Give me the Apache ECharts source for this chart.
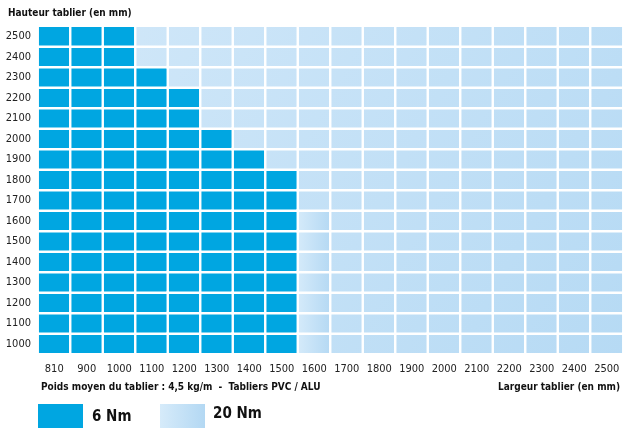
<!DOCTYPE html>
<html>
<head>
<meta charset="utf-8">
<script src="https://cdn.jsdelivr.net/npm/echarts@6/dist/echarts.min.js"></script>
<style>
  html, body { margin: 0; padding: 0; background: #fff; }
  #chart { width: 623px; height: 428px; }
</style>
</head>
<body>
<div id="chart"></div>
<script>
// largeurs (colonnes) et hauteurs (lignes) du tablier, en mm
const largeurs = ['810', '900', '1000', '1100', '1200', '1300', '1400', '1500', '1600',
  '1700', '1800', '1900', '2000', '2100', '2200', '2300', '2400', '2500']
const hauteurs = ['1000', '1100', '1200', '1300', '1400', '1500', '1600', '1700',
  '1800', '1900', '2000', '2100', '2200', '2300', '2400', '2500']
// hauteur max couverte par le moteur 6 Nm pour chaque largeur (0 = jamais)
const hauteurMax6Nm = [2500, 2500, 2500, 2300, 2200, 2000, 1900, 1800, 0,
  0, 0, 0, 0, 0, 0, 0, 0, 0]

const darkBlue = '#00a6e1'
const font = "'DejaVu Sans Condensed', 'Liberation Sans Narrow', 'Roboto', sans-serif"

const lightGlobal = {
  type: 'linear', global: true, x: 38, y: 26, x2: 623, y2: 354,
  colorStops: [{ offset: 0, color: '#d2e8f9' }, { offset: 1, color: '#b6daf4' }]
}
const lightHoriz = {
  type: 'linear', x: 0, y: 0, x2: 1, y2: 0,
  colorStops: [{ offset: 0, color: '#d6ebfa' }, { offset: 1, color: '#b3d8f3' }]
}

const data = []
largeurs.forEach((l, i) => {
  hauteurs.forEach((h, j) => {
    const couple = +h <= hauteurMax6Nm[i] ? 6 : 20
    let color = couple === 6 ? darkBlue : lightGlobal
    if (couple === 20 && l === '1600' && +h <= 1600) color = lightHoriz
    data.push({ value: [i, j, couple], itemStyle: { color } })
  })
})

const chart = echarts.init(document.getElementById('chart'))
chart.setOption({
  animation: false,
  grid: { left: 38, top: 26, right: -3, bottom: 74 },
  xAxis: {
    type: 'category',
    data: largeurs,
    axisLine: { show: false },
    axisTick: { show: false },
    splitLine: { show: false },
    axisLabel: { color: '#222', fontFamily: font, fontSize: 11, margin: 10, interval: 0 }
  },
  yAxis: {
    type: 'category',
    data: hauteurs,
    axisLine: { show: false },
    axisTick: { show: false },
    splitLine: { show: false },
    axisLabel: { color: '#222', fontFamily: font, fontSize: 11, margin: 7, interval: 0 }
  },
  series: [{
    type: 'heatmap',
    data: data,
    itemStyle: { borderColor: '#fff', borderWidth: 2.4 },
    emphasis: { disabled: true }
  }],
  graphic: [
    { type: 'text', left: 8, top: 8, style: { text: 'Hauteur tablier (en mm)', font: "bold 10px " + font, fill: '#111' } },
    { type: 'text', left: 41, top: 382, style: { text: 'Poids moyen du tablier : 4,5 kg/m  -  Tabliers PVC / ALU', font: "bold 10px " + font, fill: '#111' } },
    { type: 'text', right: 3, top: 382, style: { text: 'Largeur tablier (en mm)', font: "bold 10px " + font, fill: '#111' } },
    { type: 'rect', shape: { x: 38, y: 404, width: 45, height: 30 }, style: { fill: darkBlue } },
    { type: 'text', left: 92, top: 410, style: { text: '6 Nm', font: "bold 15px " + font, fill: '#111' } },
    { type: 'rect', shape: { x: 160, y: 404, width: 45, height: 30 }, style: { fill: { type: 'linear', x: 0, y: 0, x2: 1, y2: 0, colorStops: [{ offset: 0, color: '#d6ebfa' }, { offset: 1, color: '#b3d8f3' }] } } },
    { type: 'text', left: 213, top: 407, style: { text: '20 Nm', font: "bold 15px " + font, fill: '#111' } }
  ]
})
</script>
</body>
</html>
